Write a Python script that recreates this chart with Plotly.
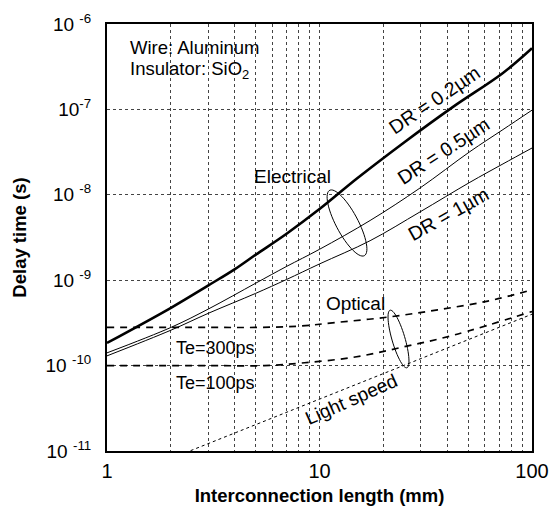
import numpy as np
import plotly.graph_objects as go

# ---------------- data ----------------
len_dr02 = [1, 2, 3, 4, 5, 7, 10, 15, 25, 42.5, 73, 100]
delay_dr02 = [1.84e-10, 4.75e-10, 8.7e-10, 1.35e-9, 1.98e-9, 3.5e-9, 6.8e-9, 1.55e-8, 4.1e-8, 1.07e-7, 2.67e-7, 5.2e-7]

len_dr05 = [1, 2, 3, 5, 7, 10, 17.3, 29.7, 51, 73, 100]
delay_dr05 = [1.41e-10, 2.8e-10, 4.6e-10, 9.2e-10, 1.45e-9, 2.3e-9, 5.0e-9, 1.2e-8, 3.2e-8, 5.8e-8, 9.8e-8]

len_dr1 = [1, 2, 3, 5, 7, 10, 17.3, 29.7, 51, 73, 100]
delay_dr1 = [1.3e-10, 2.6e-10, 4.1e-10, 7.0e-10, 1.02e-9, 1.55e-9, 2.9e-9, 6.3e-9, 1.4e-8, 2.3e-8, 3.53e-8]

len_te300 = [1, 3, 5, 8, 12, 21, 36, 62, 100]
delay_te300 = [2.8e-10, 2.8e-10, 2.8e-10, 2.9e-10, 3.2e-10, 3.7e-10, 4.5e-10, 5.7e-10, 7.7e-10]

len_te100 = [1, 3, 5.5, 8.5, 14.7, 25, 43, 100]
delay_te100 = [1.0e-10, 1.0e-10, 1.0e-10, 1.08e-10, 1.26e-10, 1.66e-10, 2.28e-10, 4.3e-10]

len_light = [1, 100]
delay_light = [4.1e-12, 4.0e-10]

x_tickvals = [1, 2, 3, 4, 5, 6, 7, 8, 9, 10, 20, 30, 40, 50, 60, 70, 80, 90, 100]
x_ticktext = ["1", "", "", "", "", "", "", "", "", "10", "", "", "", "", "", "", "", "", "100"]
y_tickvals = [1e-11, 1e-10, 1e-9, 1e-8, 1e-7, 1e-6]
y_ticktext = ["10 <sup>-11</sup>", "10 <sup>-10</sup>", "10 <sup>-9</sup>",
              "10 <sup>-8</sup>", "10<sup>-7</sup>", "10 <sup>-6</sup>"]

# ---------------- layout geometry ----------------
# the page body adds an 8px offset, so the figure is 8px smaller on each side
OFF = 8
W, H = 558 - OFF, 517 - OFF
L, R, T, B = 107 - OFF, 26, 24 - OFF, 66
PW, PH = W - L - R, H - T - B
FONT = "Liberation Sans, Arial, Helvetica, sans-serif"


def pxx(px):
    return (px - OFF - L) / PW


def pxy(py):
    return (H - B - (py - OFF)) / PH


def ellipse_path(cx, cy, a, b, ang_deg, n=60):
    t = np.linspace(0, 2 * np.pi, n)
    ang = np.radians(ang_deg)
    xs = cx + a * np.cos(t) * np.cos(ang) - b * np.sin(t) * np.sin(ang)
    ys = cy + a * np.cos(t) * np.sin(ang) + b * np.sin(t) * np.cos(ang)
    pts = [f"{pxx(x):.5f},{pxy(y):.5f}" for x, y in zip(xs, ys)]
    return "M " + " L ".join(pts) + " Z"


fig = go.Figure()

fig.add_trace(go.Scatter(x=len_dr02, y=delay_dr02, mode="lines", line=dict(color="black", width=2.6, shape="spline")))
fig.add_trace(go.Scatter(x=len_dr05, y=delay_dr05, mode="lines", line=dict(color="black", width=1, shape="spline")))
fig.add_trace(go.Scatter(x=len_dr1, y=delay_dr1, mode="lines", line=dict(color="black", width=1, shape="spline")))
fig.add_trace(go.Scatter(x=len_te300, y=delay_te300, mode="lines",
                         line=dict(color="black", width=1.7, dash="7px,6px", shape="spline")))
fig.add_trace(go.Scatter(x=len_te100, y=delay_te100, mode="lines",
                         line=dict(color="black", width=1.7, dash="7px,6px", shape="spline")))
fig.add_trace(go.Scatter(x=len_light, y=delay_light, mode="lines",
                         line=dict(color="black", width=1, dash="3px,3px")))

# ellipses (annotation marks, drawn in paper space)
fig.add_shape(type="path", xref="paper", yref="paper",
              path=ellipse_path(347, 223, 37, 11, 62), line=dict(color="black", width=1))
fig.add_shape(type="path", xref="paper", yref="paper",
              path=ellipse_path(398.5, 339, 30, 6.5, 73.7), line=dict(color="black", width=1))

ann = [
    ("Wire: Aluminum", 128, 48, 0, "left", 18.5),
    ("Insulator: SiO<sub>2</sub>", 128, 70, 0, "left", 18.5),
    ("Electrical", 292, 177, 0, "center", 19),
    ("Optical", 355, 303, 0, "center", 19),
    ("Te=300ps", 215, 348, 0, "center", 18),
    ("Te=100ps", 215, 383, 0, "center", 18),
    ("DR = 0.2µm", 434, 100, -34, "center", 19.5),
    ("DR = 0.5µm", 443, 151, -33, "center", 19.5),
    ("DR = 1µm", 448, 214, -29, "center", 19.5),
    ("Light speed", 351, 399, -24, "center", 19),
]
for text, px, py, ang, al, fs in ann:
    fig.add_annotation(text=text, xref="paper", yref="paper", x=pxx(px), y=pxy(py),
                       xanchor=al if ang == 0 else "center", yanchor="middle",
                       textangle=ang, showarrow=False,
                       font=dict(family=FONT, size=fs, color="black"))

grid = dict(showgrid=True, gridcolor="#444", gridwidth=1, griddash="dot")
fig.update_xaxes(type="log", range=[0, 2], tickvals=x_tickvals, ticktext=x_ticktext,
                 ticks="", ticklabelstandoff=1, zeroline=False,
                 showline=True, linecolor="black", linewidth=2, mirror=True,
                 tickfont=dict(family=FONT, size=20, color="black"),
                 title=dict(text="<b>Interconnection length (mm)</b>", standoff=8,
                            font=dict(family=FONT, size=18.5, color="black")),
                 **grid)
fig.update_yaxes(type="log", range=[-11, -6], tickvals=y_tickvals, ticktext=y_ticktext,
                 ticks="", ticklabelstandoff=10, zeroline=False,
                 showline=True, linecolor="black", linewidth=2, mirror=True,
                 tickfont=dict(family=FONT, size=19, color="black"),
                 title=dict(text="<b>Delay time (s)</b>", standoff=14,
                            font=dict(family=FONT, size=18.5, color="black")),
                 **grid)

fig.update_layout(width=W, height=H, margin=dict(l=L, r=R, t=T, b=B, autoexpand=False),
                  paper_bgcolor="white", plot_bgcolor="white", showlegend=False,
                  font=dict(family=FONT, color="black"))

fig.write_html("out.html")
